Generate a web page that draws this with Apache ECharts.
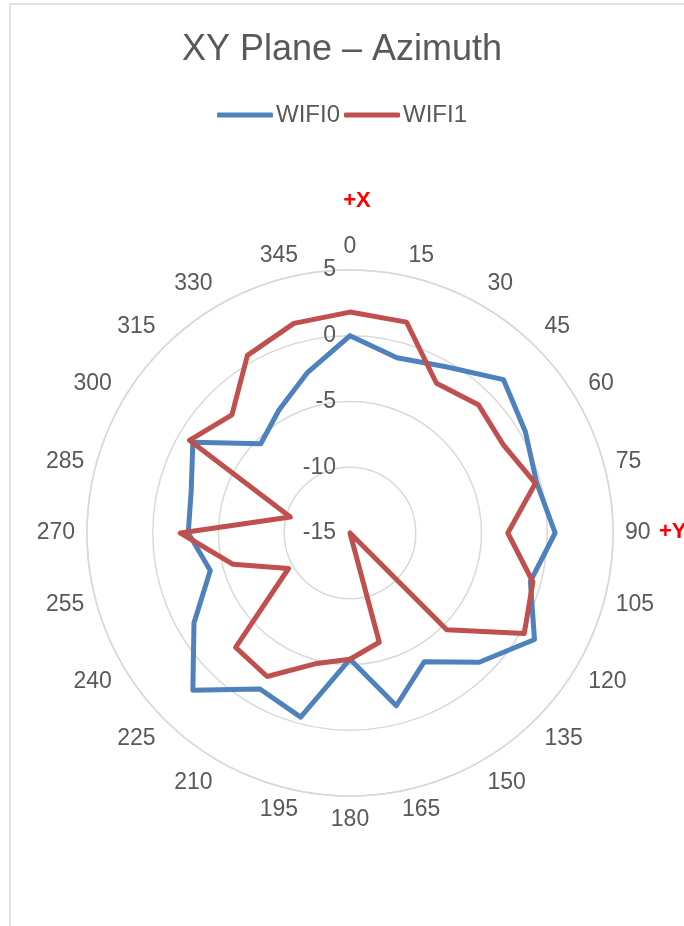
<!DOCTYPE html>
<html>
<head>
<meta charset="utf-8">
<script src="https://cdn.jsdelivr.net/npm/echarts@6/dist/echarts.min.js"></script>
<style>
  html, body { margin: 0; padding: 0; background: #fff; }
  #chart { width: 684px; height: 926px; }
</style>
</head>
<body>
<div id="chart"></div>
<script>
// azimuth angles (deg), clockwise from +X
const angles = [0, 15, 30, 45, 60, 75, 90, 105, 120, 135, 150, 165,
  180, 195, 210, 225, 240, 255, 270, 285, 300, 315, 330, 345];
// gain (dBi)
const wifi0 = [0, -1.2, -0.4, 1.5, 0.4, -0.3, 0.6, -0.8, 1.2, -1.1, -3.7, -1.4,
  -5.4, -0.5, -1.3, 1.9, -1.3, -4.0, -2.7, -2.5, -1.2, -5.4, -4.2, -2.4];
const wifi1 = [1.8, 1.6, -1.85, -1.2, -1.55, -0.4, -3.0, -0.6, 0.3, -4.6, -15, -6.4,
  -5.4, -4.7, -2.4, -2.7, -9.6, -5.8, -2.1, -10.3, -0.9, -2.3, 0.6, 1.5];
const radiusTicks = [-15, -10, -5, 0, 5];

const font = "'Liberation Sans', Arial, sans-serif";
const grey = '#595959';

// close the loop by repeating the first point at 360
function toPolar(vals) {
  const pts = vals.map((v, i) => [v, angles[i]]);
  pts.push([vals[0], 360]);
  return pts;
}

const chart = echarts.init(document.getElementById('chart'));

chart.setOption({
  animation: false,
  backgroundColor: '#fff',
  title: {
    text: 'XY Plane \u2013 Azimuth',
    left: 'center',
    top: 27,
    textStyle: { fontFamily: font, fontSize: 36, fontWeight: 'normal', color: grey }
  },
  legend: {
    top: 98,
    left: 'center',
    icon: 'roundRect',
    itemWidth: 56,
    itemHeight: 5,
    itemGap: 4,
    textStyle: { fontFamily: font, fontSize: 24, color: grey, padding: [0, 0, 0, -2] },
    data: ['WIFI0', 'WIFI1']
  },
  polar: {
    center: [350, 533],
    radius: 263
  },
  angleAxis: {
    type: 'value',
    min: 0,
    max: 360,
    interval: 15,
    startAngle: 90,
    clockwise: true,
    axisLine: { show: true, lineStyle: { color: '#D9D9D9', width: 1.5 } },
    axisTick: { show: false },
    splitLine: { show: false },
    axisLabel: { fontFamily: font, fontSize: 23, color: grey, margin: 12 }
  },
  radiusAxis: {
    type: 'value',
    min: radiusTicks[0],
    max: radiusTicks[radiusTicks.length - 1],
    interval: 5,
    axisLine: { show: false },
    axisTick: { show: false },
    splitLine: { show: true, lineStyle: { color: '#D9D9D9', width: 1.5 } },
    axisLabel: { fontFamily: font, fontSize: 23, color: grey, margin: 14 }
  },
  series: [
    {
      name: 'WIFI0',
      type: 'line',
      coordinateSystem: 'polar',
      data: toPolar(wifi0),
      showSymbol: false,
      color: '#4F81BD',
      lineStyle: { width: 5, cap: 'round', join: 'round' }
    },
    {
      name: 'WIFI1',
      type: 'line',
      coordinateSystem: 'polar',
      data: toPolar(wifi1),
      showSymbol: false,
      color: '#C0504D',
      lineStyle: { width: 5, cap: 'round', join: 'round' }
    }
  ],
  graphic: [
    {
      type: 'rect',
      shape: { x: 10, y: 4, width: 720, height: 960 },
      style: { fill: 'none', stroke: '#D9D9D9', lineWidth: 1.5 },
      silent: true
    },
    {
      type: 'text',
      x: 357, y: 201,
      style: { text: '+X', fill: '#FF0000', font: 'bold 22px ' + font, align: 'center', verticalAlign: 'middle' }
    },
    {
      type: 'text',
      x: 659, y: 532,
      style: { text: '+Y', fill: '#FF0000', font: 'bold 22px ' + font, align: 'left', verticalAlign: 'middle' }
    }
  ]
});
</script>
</body>
</html>
